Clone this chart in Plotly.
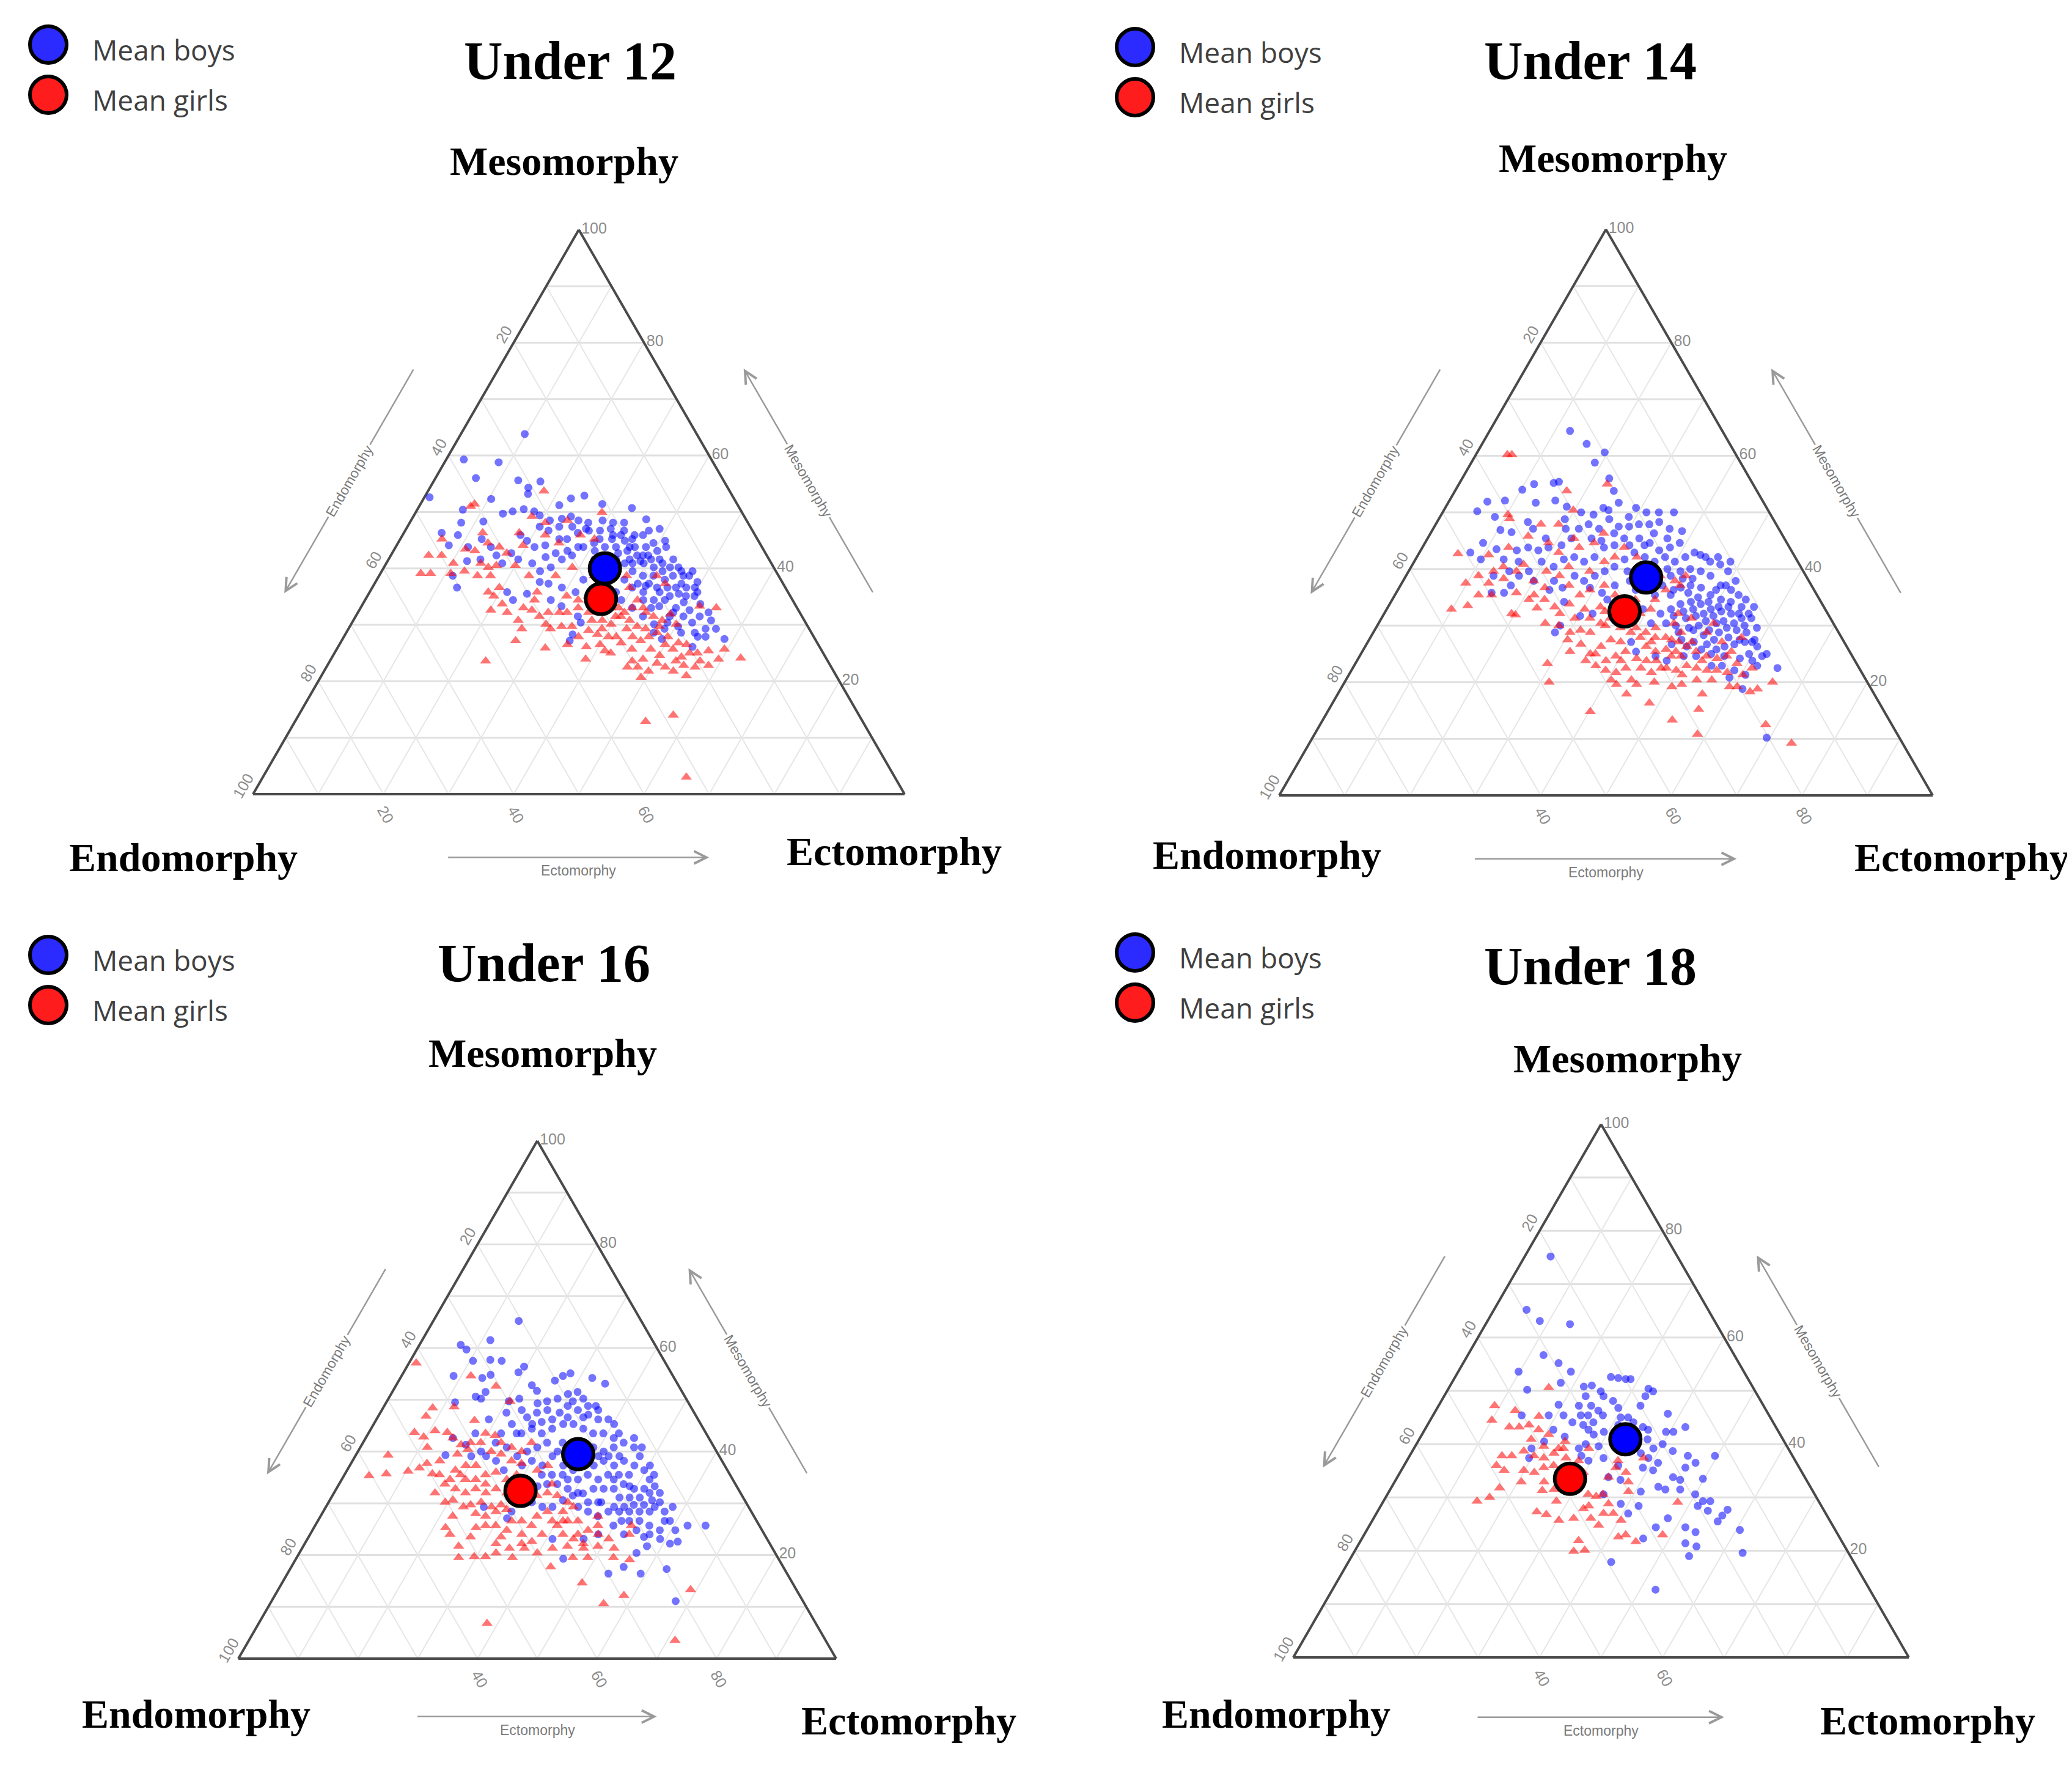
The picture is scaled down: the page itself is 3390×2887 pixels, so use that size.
import plotly.graph_objects as go

W, H = 3390, 2887

panel_names = ["Under 12", "Under 14", "Under 16", "Under 18"]

# every child as (mesomorphy, ectomorphy) in %;
# endomorphy is whatever is left of 100
u12_boys = [
    (63.8, 9.8), (59.3, 2.7), (58.8, 8.3), (56.0, 6.2), (55.6, 12.9), (55.4, 16.4), (52.6, 0.8), (54.3, 15.1),
    (53.2, 15.6), (52.3, 10.4), (52.4, 22.6), (52.9, 24.4), (51.2, 21.4), (51.4, 27.9), (50.7, 32.8), (50.4, 7.0),
    (49.7, 13.5), (50.1, 14.8), (50.5, 16.3), (48.1, 7.9), (48.3, 11.2), (50.1, 18.1), (49.4, 19.3), (48.5, 21.3),
    (48.8, 23.0), (49.2, 24.2), (48.5, 25.7), (48.1, 27.4), (48.5, 29.4), (48.1, 31.2), (48.1, 32.9), (48.7, 36.0),
    (47.0, 38.9), (46.3, 5.8), (45.9, 8.5), (44.1, 8.0), (45.2, 12.5), (43.8, 11.1), (41.3, 12.2), (38.7, 11.3),
    (36.6, 13.0), (45.9, 18.1), (44.9, 19.6), (43.8, 21.3), (44.1, 22.8), (45.2, 24.4), (45.2, 25.6), (46.3, 26.7),
    (46.7, 28.2), (46.7, 29.9), (47.0, 31.4), (45.9, 33.5), (45.2, 35.6), (45.9, 36.9), (44.5, 39.2), (44.9, 40.8),
    (43.8, 41.5), (42.7, 18.3), (40.9, 17.8), (41.6, 19.9), (40.9, 22.4), (39.5, 24.3), (40.2, 25.6), (41.6, 26.6),
    (42.3, 27.8), (43.8, 28.8), (44.5, 30.1), (43.8, 32.1), (43.8, 33.8), (43.1, 35.9), (42.3, 37.8), (42.3, 39.5),
    (41.6, 41.6), (40.2, 43.9), (40.2, 45.2), (38.7, 47.6), (37.6, 49.4), (37.6, 25.2), (37.3, 26.7), (36.6, 29.1),
    (35.8, 31.6), (38.0, 31.7), (41.6, 34.9), (40.9, 36.6), (39.5, 38.5), (38.7, 40.5), (38.7, 42.1), (38.0, 44.2),
    (36.6, 46.6), (36.6, 48.2), (35.1, 50.2), (34.0, 49.1), (33.0, 48.4), (31.5, 48.2), (31.5, 50.3), (30.4, 52.2),
    (29.3, 54.8), (27.5, 58.6), (27.9, 54.3), (28.6, 51.4), (29.3, 48.5), (30.1, 46.5), (31.5, 44.1), (33.0, 41.7),
    (34.4, 39.3), (35.8, 37.8), (36.6, 39.9), (35.8, 42.0), (34.4, 44.3), (34.4, 46.0), (33.0, 44.6), (35.8, 21.1),
    (34.4, 22.7), (35.5, 24.3), (34.4, 28.5), (33.3, 30.7), (31.5, 34.1), (30.4, 35.1), (28.3, 34.9), (27.2, 35.0),
    (27.5, 49.0), (26.1, 54.4), (41.6, 31.6), (38.7, 35.1), (42.3, 16.2), (43.8, 14.6), (41.6, 14.1), (47.4, 20.3),
    (46.7, 22.0), (47.4, 23.3), (47.4, 25.3), (47.0, 27.6), (45.2, 30.6), (45.2, 32.5), (44.9, 34.6), (43.8, 36.7),
    (43.8, 38.4), (43.1, 40.5), (40.9, 39.5), (40.2, 41.4), (39.5, 43.1), (38.7, 45.1), (37.3, 47.1), (35.1, 46.4),
    (35.8, 44.5), (37.3, 42.1), (37.3, 40.4), (38.7, 46.7), (36.6, 49.5), (33.7, 51.8), (32.2, 53.8),
    (42.3, 33.3), (42.7, 34.7), (41.6, 37.0), (41.3, 38.8), (41.6, 40.3), (40.9, 42.4), (41.6, 43.7), (39.5, 46.0),
    (39.5, 47.7), (35.8, 50.3), (35.1, 48.9), (35.5, 47.6), (36.6, 45.3), (36.6, 43.7), (36.9, 41.8), (34.4, 42.7),
    (33.3, 45.7), (32.2, 48.4), (32.6, 50.7), (31.5, 52.8), (30.8, 54.9), (28.6, 53.5), (29.7, 50.4), (30.4, 48.4),
    (28.6, 47.2), (27.9, 55.5), (29.3, 56.4), (39.5, 36.0), (38.0, 38.0), (40.9, 37.8), (42.3, 38.7), (45.9, 32.3),
    (46.7, 33.6), (45.9, 35.6), (46.7, 37.4), (43.8, 35.9), (43.8, 28.0), (43.1, 26.7), (42.7, 25.1), (42.0, 23.9),
    (43.1, 30.9),
]
u12_girls = [
    (53.7, 17.8), (51.4, 8.3), (51.0, 7.9), (49.2, 18.2), (48.1, 20.8), (48.5, 24.0), (49.9, 28.6), (45.2, 6.4),
    (43.4, 10.9), (42.3, 5.8), (39.1, 6.2), (39.1, 7.7), (39.1, 10.8), (39.5, 12.7), (46.3, 12.1), (44.5, 13.8),
    (43.8, 15.9), (42.7, 17.6), (46.3, 17.7), (44.1, 19.4), (45.9, 21.9), (44.5, 24.7), (45.9, 27.3), (45.2, 29.8),
    (43.1, 12.5), (40.9, 14.5), (40.2, 16.0), (38.7, 17.1), (40.5, 17.1), (40.5, 20.0), (38.7, 23.0), (35.8, 25.7),
    (35.1, 19.4), (32.6, 20.2), (32.2, 22.9), (33.0, 25.0), (32.6, 26.5), (31.5, 28.2), (30.1, 29.9), (29.3, 31.0),
    (32.2, 30.9), (32.2, 32.1), (33.0, 33.4), (32.2, 35.4), (30.8, 36.6), (30.8, 38.2), (30.1, 39.9), (31.5, 39.9),
    (32.2, 40.9), (33.0, 41.7), (33.0, 43.4), (38.7, 42.6), (37.3, 44.6), (38.7, 38.0), (36.6, 39.5), (34.4, 41.8),
    (32.2, 44.2), (31.5, 45.7), (30.8, 47.4), (31.9, 48.1), (33.3, 51.9), (33.0, 54.6), (30.1, 49.9), (29.3, 42.7),
    (27.9, 44.3), (27.2, 45.9), (27.9, 46.8), (28.6, 47.7), (26.5, 50.0), (25.7, 51.6), (24.3, 53.6), (26.5, 53.3),
    (25.0, 55.7), (25.4, 57.2), (25.7, 59.5), (24.1, 62.8), (23.9, 59.5), (22.5, 56.6), (21.0, 56.0), (23.6, 53.1),
    (22.5, 52.0), (23.9, 47.9), (22.5, 47.8), (20.7, 49.2), (22.5, 46.2), (25.4, 41.3), (25.0, 42.4), (26.5, 40.0),
    (26.1, 38.1), (23.9, 39.1), (25.9, 31.9), (27.2, 26.7), (29.3, 26.6), (23.6, 23.9), (12.9, 53.8), (14.0, 57.5),
    (29.7, 32.5), (29.7, 34.1), (29.0, 37.0), (28.3, 38.7), (27.9, 40.6), (26.8, 43.1), (25.7, 45.3), (25.7, 48.2),
    (24.6, 50.1), (35.1, 30.6), (34.4, 32.7), (35.1, 33.9), (33.0, 38.4), (33.0, 39.6), (35.8, 18.2), (36.6, 19.5),
    (3.0, 65.0),
    (31.5, 40.7), (30.8, 42.4), (29.7, 44.1), (29.3, 45.6), (29.7, 47.5), (27.9, 49.7), (26.8, 51.9), (25.0, 54.5),
    (23.6, 56.8), (22.8, 58.5), (22.8, 54.7), (21.8, 53.6), (23.2, 50.4), (21.8, 49.8), (23.6, 46.4), (27.9, 41.8),
    (29.3, 38.9), (27.9, 36.0), (26.5, 35.0), (34.4, 26.0), (32.2, 29.2), (30.8, 25.3), (33.7, 21.4), (38.7, 15.1),
    (40.9, 10.3), (42.3, 7.8), (38.7, 27.1), (40.2, 28.9), (38.7, 33.0), (35.8, 36.1),
]
u14_boys = [
    (64.4, 12.3), (62.1, 16.0), (60.6, 19.5), (58.8, 18.9), (56.0, 22.5), (53.8, 24.3), (55.0, 11.5), (54.0, 10.2),
    (55.2, 14.4), (55.4, 15.1), (51.9, 5.9), (52.1, 8.5), (51.7, 13.4), (52.1, 16.2), (51.0, 18.5), (50.2, 5.2),
    (49.2, 8.4), (46.9, 10.4), (46.5, 12.3), (48.3, 13.9), (47.1, 15.3), (48.8, 19.3), (50.0, 21.2), (49.6, 23.3),
    (50.8, 24.2), (50.4, 25.2), (51.7, 26.1), (49.2, 28.9), (50.8, 29.2), (50.0, 31.2), (50.0, 33.1), (50.0, 35.4),
    (44.6, 8.9), (42.9, 7.8), (41.7, 10.0), (43.5, 11.5), (41.7, 13.5), (43.3, 14.7), (43.8, 16.2), (43.3, 18.0),
    (43.8, 19.3), (44.2, 21.1), (45.4, 22.0), (47.1, 22.3), (47.9, 23.4), (47.1, 25.4), (48.8, 26.1), (47.5, 28.2),
    (47.5, 29.8), (47.9, 31.1), (47.9, 32.7), (48.3, 34.0), (47.1, 36.2), (46.7, 38.3), (44.6, 39.0), (43.8, 37.9),
    (43.3, 36.5), (44.6, 34.4), (45.4, 32.4), (45.4, 30.1), (44.2, 29.2), (43.8, 27.8), (42.1, 27.2), (41.3, 26.0),
    (42.1, 24.1), (41.7, 22.7), (40.4, 21.8), (41.3, 19.5), (39.6, 18.4), (38.8, 17.3), (37.1, 16.9), (35.8, 16.5),
    (35.8, 14.6), (38.8, 13.4), (39.6, 15.4), (37.9, 23.1), (36.7, 25.0), (38.8, 25.8), (37.9, 27.7), (38.8, 28.9),
    (39.6, 30.0), (40.4, 31.1), (41.7, 32.0), (42.9, 32.9), (42.1, 34.9), (41.3, 36.8), (42.1, 38.0), (41.3, 39.9),
    (42.1, 41.1), (42.9, 42.1), (42.5, 43.2), (41.3, 45.3), (40.8, 47.1), (39.6, 48.9), (37.9, 50.9), (36.3, 51.0),
    (37.1, 49.0), (38.8, 46.6), (39.6, 44.7), (40.0, 42.9), (39.6, 41.6), (38.8, 40.5), (37.1, 40.1), (35.4, 42.2),
    (36.7, 43.1), (37.1, 44.4), (36.7, 46.2), (35.4, 48.3), (34.6, 50.3), (34.2, 52.0), (33.3, 54.1), (33.3, 56.0),
    (31.3, 56.6), (31.3, 55.1), (32.1, 53.1), (32.5, 51.4), (32.9, 49.6), (33.8, 47.6), (34.2, 45.9), (33.8, 44.5),
    (32.9, 43.5), (32.1, 42.3), (30.4, 44.0), (30.0, 45.7), (31.3, 46.6), (31.7, 47.9), (30.8, 49.9), (30.4, 51.7),
    (29.6, 53.7), (29.2, 55.4), (28.8, 57.1), (27.1, 57.7), (26.7, 56.3), (26.3, 55.0), (27.5, 52.8), (28.3, 50.8),
    (29.2, 48.8), (27.5, 47.8), (26.7, 46.7), (25.8, 51.7), (25.0, 53.6), (24.6, 55.8), (24.2, 58.4), (23.8, 60.5),
    (22.5, 65.0), (21.3, 60.7), (20.8, 58.5), (18.8, 61.5), (10.2, 69.5), (25.0, 62.1), (26.3, 60.0), (28.8, 27.8),
    (30.0, 28.0), (31.7, 30.2), (32.1, 31.9), (34.6, 32.9), (27.1, 40.3), (25.4, 41.9), (24.6, 45.3), (23.8, 47.4),
    (24.6, 49.6), (36.7, 29.2), (35.8, 31.5), (37.1, 32.8), (37.9, 34.7), (36.3, 37.9), (35.4, 39.8), (32.9, 39.2),
    (30.4, 41.7), (27.1, 49.9), (22.9, 54.7), (47.1, 20.3), (45.4, 18.1), (41.3, 16.0), (37.9, 20.0), (36.3, 23.2),
    (34.2, 26.5), (29.6, 58.3), (27.5, 59.0), (22.9, 56.3), (22.1, 58.6),
    (42.1, 46.1), (41.3, 48.4), (42.1, 44.2), (37.1, 49.8), (35.4, 52.6), (34.6, 54.1), (36.3, 48.7), (38.3, 44.1),
    (38.3, 42.6), (36.3, 42.2), (35.8, 44.7), (35.0, 46.6), (34.2, 48.6), (33.3, 50.6), (33.3, 52.1), (32.1, 54.3),
    (32.1, 55.8), (30.0, 56.2), (30.4, 54.4), (30.8, 52.6), (31.7, 50.6), (32.1, 48.9), (32.9, 46.9), (32.5, 45.6),
    (31.7, 44.5), (29.6, 47.9), (30.0, 49.2), (29.2, 51.2), (28.8, 52.9), (27.9, 54.8), (27.5, 56.7), (27.1, 58.8),
    (25.0, 59.4), (24.6, 61.6), (22.9, 61.7), (25.8, 54.0), (26.7, 52.1), (24.6, 51.5), (26.3, 49.2), (28.8, 46.7),
    (39.6, 38.1), (40.0, 39.4), (40.4, 36.1), (39.6, 35.0), (39.6, 33.5), (36.3, 36.4), (34.6, 35.6), (45.4, 36.7),
    (46.3, 34.2), (44.2, 33.8), (44.2, 31.5), (46.3, 28.1), (45.0, 26.8), (45.4, 25.1),
]
u14_girls = [
    (60.2, 4.8), (60.2, 5.5), (53.8, 17.1), (55.0, 22.7), (49.6, 10.2), (48.9, 10.8), (45.8, 15.2), (42.7, 6.0),
    (42.5, 10.8), (43.8, 13.2), (38.8, 11.1), (37.5, 9.8), (32.9, 9.9), (33.5, 12.1), (35.4, 14.8), (32.1, 19.5),
    (31.9, 20.2), (33.1, 22.9), (30.4, 25.5), (30.0, 27.8), (44.6, 18.9), (47.9, 18.8), (45.4, 22.4), (42.9, 21.3),
    (40.4, 24.1), (43.8, 24.0), (44.6, 25.9), (46.3, 26.5), (42.1, 30.3), (43.8, 30.9), (42.1, 33.7), (39.6, 21.1),
    (38.8, 23.5), (36.7, 22.3), (37.1, 25.8), (35.4, 28.3), (36.3, 29.4), (37.1, 31.2), (35.4, 33.7), (33.3, 32.5),
    (32.9, 30.3), (31.3, 29.6), (28.8, 30.1), (27.5, 30.4), (26.7, 32.8), (28.8, 33.2), (30.4, 34.0), (31.3, 35.0),
    (29.6, 37.4), (31.3, 38.1), (32.1, 39.2), (32.9, 40.4), (34.6, 40.2), (36.3, 41.0), (37.9, 41.6), (37.1, 42.8),
    (38.8, 42.8), (28.8, 41.7), (27.9, 43.6), (27.9, 41.3), (28.8, 39.4), (27.1, 38.7), (27.5, 37.0), (26.3, 36.1),
    (25.0, 35.1), (22.9, 37.0), (23.8, 38.1), (24.6, 39.2), (25.4, 40.3), (26.3, 43.0), (25.4, 44.9), (25.8, 46.3),
    (25.4, 48.0), (26.3, 49.2), (25.4, 51.1), (24.6, 53.1), (24.2, 54.9), (21.7, 57.7), (23.3, 58.4), (22.5, 61.1),
    (20.0, 65.5), (19.2, 60.5), (18.3, 62.9), (18.8, 63.8), (19.2, 59.3), (22.1, 55.9), (22.1, 54.4), (22.5, 52.6),
    (22.9, 50.9), (22.1, 49.7), (22.5, 48.0), (23.8, 45.8), (23.8, 44.3), (24.2, 42.6), (22.5, 41.8), (21.7, 40.7),
    (20.4, 43.7), (17.9, 44.2), (16.3, 48.5), (20.0, 47.4), (19.2, 50.5), (19.6, 51.8), (20.4, 53.7), (17.9, 55.8),
    (13.3, 53.5), (10.8, 58.6), (15.2, 56.6), (14.8, 40.2), (23.3, 29.4), (20.0, 31.3), (20.4, 40.6), (12.5, 68.2),
    (9.2, 73.8), (27.1, 54.2), (28.8, 51.0), (28.8, 47.1), (27.5, 46.3), (25.4, 56.5), (37.9, 20.0), (40.8, 17.0),
    (39.6, 13.0), (38.3, 15.2), (35.8, 18.4), (39.6, 27.7), (41.3, 29.1), (39.6, 37.0), (38.8, 38.9), (33.3, 25.5),
    (35.4, 21.3), (27.9, 56.8), (30.4, 51.3), (31.3, 47.4), (32.1, 45.0), (50.4, 19.8), (47.9, 16.1), (30.0, 34.9),
    (34.6, 37.2),
    (31.3, 31.9), (32.5, 33.6), (32.1, 36.1), (29.6, 39.8), (27.1, 43.4), (27.9, 45.2), (27.1, 47.6), (27.1, 49.6),
    (23.8, 52.8), (24.6, 49.2), (24.6, 47.7), (22.5, 47.2), (21.7, 46.1), (22.5, 44.1), (22.1, 38.9), (25.0, 35.9),
    (23.8, 35.0), (29.2, 31.5), (32.1, 26.9), (33.8, 27.5), (34.6, 23.3), (34.6, 20.9), (39.6, 16.5), (40.4, 14.1),
    (37.5, 13.3), (35.4, 12.8), (25.4, 31.8), (19.6, 41.8), (19.6, 44.9), (21.3, 51.0), (20.4, 56.0), (21.3, 60.3),
    (24.6, 56.2), (23.8, 40.4), (29.6, 42.8), (30.4, 45.2),
]
u16_boys = [
    (65.2, 14.3), (61.5, 11.4), (60.6, 6.9), (59.7, 8.3), (57.5, 10.5), (57.7, 13.3), (57.5, 15.3), (56.4, 19.6),
    (55.3, 19.2), (54.6, 8.7), (54.2, 13.7), (54.8, 14.8), (52.8, 22.7), (51.7, 24.1), (53.7, 26.1), (54.6, 27.0),
    (55.1, 28.0), (54.2, 32.1), (53.1, 34.8), (49.5, 11.5), (50.6, 14.4), (50.2, 15.5), (51.5, 15.6), (49.7, 20.4),
    (50.2, 21.9), (48.0, 23.4), (49.3, 25.4), (49.7, 26.8), (50.2, 28.3), (51.1, 29.6), (51.5, 31.0), (50.2, 32.6),
    (48.8, 35.4), (46.2, 18.8), (47.5, 21.1), (45.3, 23.1), (46.6, 25.0), (47.5, 26.2), (48.0, 27.7), (47.5, 30.0),
    (48.8, 30.7), (48.0, 32.8), (47.1, 35.0), (46.2, 37.1), (46.2, 38.8), (45.3, 40.2), (43.5, 22.2), (41.7, 22.2),
    (40.8, 24.5), (43.5, 25.6), (44.4, 26.9), (43.5, 29.0), (44.4, 30.3), (45.3, 31.7), (45.3, 33.4), (44.4, 35.5),
    (43.5, 37.6), (43.5, 39.3), (42.6, 41.5), (41.7, 43.6), (40.8, 42.4), (40.0, 41.1), (40.8, 39.0), (41.7, 33.4),
    (41.7, 30.8), (40.8, 29.6), (40.0, 28.3), (39.1, 27.1), (40.0, 20.6), (39.1, 21.9), (38.2, 24.0), (36.4, 26.2),
    (37.3, 28.8), (38.2, 30.0), (37.3, 32.2), (39.1, 33.0), (37.3, 35.7), (37.3, 40.8), (38.2, 42.0), (37.3, 44.2),
    (38.2, 45.4), (37.3, 47.6), (39.1, 47.6), (35.5, 47.6), (35.5, 45.9), (35.5, 44.1), (34.6, 42.9), (35.5, 40.7),
    (34.6, 39.5), (34.6, 37.8), (33.7, 36.5), (33.7, 34.8), (33.3, 33.4), (34.6, 51.5), (32.8, 51.5), (32.8, 49.8),
    (33.7, 47.6), (32.8, 46.4), (32.8, 44.7), (32.8, 43.0), (31.9, 41.7), (31.5, 40.2), (30.6, 39.0), (29.3, 37.9),
    (29.3, 36.2), (30.2, 34.0), (31.1, 48.2), (31.1, 49.9), (31.1, 51.6), (32.0, 52.8), (30.2, 55.4), (32.0, 54.5),
    (29.3, 55.0), (28.4, 54.6), (28.4, 52.9), (28.4, 51.2), (28.4, 49.5), (28.4, 47.7), (27.5, 46.4), (26.6, 52.1),
    (26.6, 53.8), (25.7, 55.9), (24.8, 58.1), (26.6, 58.9), (29.3, 58.0), (25.7, 62.3), (25.7, 65.3), (24.0, 56.8),
    (23.1, 59.0), (22.2, 61.1), (22.6, 62.2), (21.7, 57.5), (16.4, 53.7), (17.7, 55.6), (16.4, 59.1), (17.3, 63.0),
    (11.1, 67.6), (19.3, 44.7), (23.1, 41.0), (23.1, 46.2), (24.0, 48.2), (29.3, 26.4), (28.4, 31.5), (27.1, 31.4),
    (39.3, 15.0), (42.6, 14.6), (39.1, 19.4), (43.5, 17.9), (41.3, 17.4), (34.2, 28.6), (34.2, 30.3), (40.8, 34.7),
    (38.2, 36.9), (39.1, 38.2), (40.0, 33.4), (40.8, 45.8), (36.4, 49.7), (25.7, 49.9), (24.0, 52.5), (28.4, 44.3),
    (29.3, 42.2), (30.2, 45.6), (20.4, 56.4),
    (49.7, 31.1), (48.8, 34.1), (48.0, 36.2), (46.6, 34.4), (46.6, 31.8), (46.2, 29.4), (45.7, 27.9), (43.5, 41.9),
    (42.6, 44.9), (40.8, 47.1), (37.3, 50.2), (35.5, 51.8), (39.1, 44.2), (39.1, 42.4), (39.1, 40.7), (38.2, 39.4),
    (36.4, 37.8), (35.5, 36.5), (35.5, 34.7), (35.5, 33.0), (29.3, 49.9), (29.3, 48.2), (29.7, 51.3), (29.7, 53.0),
    (30.6, 53.9), (28.4, 57.1), (24.8, 54.2), (23.5, 56.1), (26.6, 50.8), (30.2, 45.1), (30.2, 43.4), (32.0, 40.8),
    (32.8, 38.7), (34.6, 45.5), (33.3, 48.8), (33.3, 53.0), (26.6, 58.0), (24.8, 60.7), (45.3, 26.5), (43.5, 24.8),
]
u16_girls = [
    (57.1, 1.2), (54.6, 11.6), (52.6, 16.8), (48.4, 8.3), (46.8, 8.0), (48.6, 11.8), (46.0, 16.5), (43.7, 7.6),
    (42.8, 9.6), (44.0, 10.9), (43.7, 13.1), (43.1, 21.4), (49.7, 20.6), (39.3, 5.4), (35.3, 4.2), (35.7, 6.9),
    (36.2, 10.3), (36.8, 11.9), (35.7, 14.6), (37.7, 12.7), (42.6, 14.6), (41.3, 16.6), (40.4, 18.2), (41.7, 19.7),
    (40.0, 22.3), (39.5, 24.2), (38.2, 26.6), (37.7, 28.5), (35.5, 28.8), (34.6, 27.6), (36.0, 25.1), (35.5, 23.6),
    (37.3, 21.1), (37.3, 19.4), (36.4, 18.1), (33.7, 17.7), (32.8, 19.9), (32.0, 22.0), (32.8, 23.3), (32.0, 25.4),
    (32.8, 26.7), (29.7, 29.1), (29.3, 27.7), (30.2, 25.5), (29.7, 24.0), (30.6, 20.6), (27.5, 22.1), (28.0, 25.7),
    (27.5, 27.6), (28.4, 28.9), (28.8, 30.5), (32.8, 31.9), (31.5, 34.2), (32.0, 35.7), (31.5, 37.6), (30.2, 40.0),
    (29.3, 41.4), (28.4, 40.1), (26.6, 39.2), (25.7, 40.5), (26.6, 41.8), (26.6, 43.5), (24.8, 46.1), (24.0, 48.2),
    (23.1, 50.4), (22.2, 46.6), (23.1, 44.5), (24.0, 42.3), (24.0, 38.8), (25.7, 36.2), (26.6, 34.1), (26.6, 32.4),
    (23.5, 32.2), (22.2, 32.0), (21.3, 34.7), (22.2, 36.3), (22.6, 37.8), (25.3, 22.0), (25.3, 27.1), (21.7, 26.0),
    (19.5, 27.1), (19.7, 29.6), (19.7, 31.5), (19.5, 36.1), (21.3, 37.2), (21.3, 41.9), (21.7, 44.2), (21.3, 47.1),
    (21.7, 49.3), (21.3, 52.2), (19.5, 53.0), (19.1, 55.9), (24.0, 53.4), (25.7, 52.9), (17.7, 43.4), (14.6, 50.2),
    (10.6, 55.8), (12.2, 58.4), (13.3, 69.0), (6.8, 38.2), (3.5, 71.3), (36.4, 31.8), (37.3, 33.1), (33.7, 35.6),
    (30.2, 32.3), (34.6, 20.7), (38.2, 14.6), (40.8, 11.2), (25.7, 30.2), (19.5, 48.7), (19.5, 46.2), (27.5, 46.4),
    (39.5, 16.9), (41.7, 18.0), (43.5, 19.6), (41.7, 23.1), (40.8, 25.3), (40.0, 27.4), (41.7, 28.2), (32.8, 30.2),
    (34.6, 31.0), (32.0, 28.9), (33.7, 24.5), (34.6, 22.4), (35.5, 19.4), (34.6, 18.1), (35.5, 15.9), (32.0, 16.9),
    (30.2, 19.5), (29.3, 23.0), (25.7, 28.5), (24.8, 32.5), (24.0, 35.4), (27.5, 36.2), (28.4, 37.5), (26.6, 41.0),
    (24.0, 44.8), (25.7, 47.3), (20.4, 39.8), (20.4, 32.9), (23.5, 27.1), (24.0, 23.4),
]
u18_boys = [
    (75.2, 4.2), (65.2, 5.3), (63.1, 8.5), (62.5, 13.7), (56.7, 12.3), (55.2, 15.5), (53.6, 18.3), (53.6, 9.8),
    (51.5, 17.7), (50.2, 12.9), (52.6, 25.3), (52.4, 26.6), (52.2, 27.9), (52.2, 28.7), (50.8, 21.8), (51.0, 23.0),
    (49.9, 25.0), (49.0, 25.9), (50.4, 32.5), (49.9, 33.5), (49.0, 32.7), (49.0, 23.0), (47.4, 19.4), (47.2, 22.8),
    (47.2, 24.8), (46.3, 26.4), (48.1, 27.9), (46.8, 29.4), (47.2, 32.8), (45.4, 18.8), (45.4, 21.2), (45.4, 14.4),
    (44.1, 23.3), (45.4, 24.0), (45.4, 25.2), (44.1, 26.7), (45.4, 27.6), (45.0, 30.7), (45.0, 31.9), (44.1, 33.2),
    (45.7, 38.0), (42.7, 20.9), (40.5, 20.5), (41.4, 23.4), (43.6, 25.3), (42.7, 26.6), (41.8, 27.9), (42.3, 29.3),
    (43.6, 31.0), (43.2, 35.2), (42.7, 36.3), (42.3, 39.4), (42.3, 40.6), (43.2, 42.1), (39.2, 19.1), (37.4, 19.6),
    (40.0, 27.5), (39.6, 29.8), (40.9, 35.5), (40.9, 37.1), (39.2, 38.9), (40.0, 40.0), (38.7, 42.3), (37.8, 45.2),
    (37.8, 49.6), (38.3, 37.3), (37.4, 39.0), (36.5, 41.0), (35.6, 39.0), (35.1, 40.9), (36.9, 29.5), (37.4, 31.7),
    (36.0, 34.8), (35.6, 45.9), (36.5, 47.1), (33.5, 49.8), (33.8, 34.3), (33.3, 36.5), (33.8, 44.8), (33.3, 46.2),
    (32.0, 43.3), (31.5, 44.7), (31.5, 47.1), (31.1, 40.9), (30.6, 35.1), (28.8, 38.8), (27.0, 40.9), (30.6, 50.0),
    (29.3, 51.9), (29.3, 53.1), (28.4, 51.5), (27.5, 53.6), (27.7, 56.7), (26.6, 56.4), (25.5, 56.2), (26.1, 47.8),
    (24.4, 51.5), (24.4, 46.7), (22.3, 45.7), (23.5, 53.6), (21.4, 53.0), (20.8, 55.1), (19.0, 54.8), (23.9, 60.6),
    (19.6, 63.2), (17.9, 42.7), (12.7, 52.5), (28.4, 41.9), (37.8, 27.9), (39.2, 26.8),
]
u18_girls = [
    (50.6, 16.2), (47.2, 9.1), (44.5, 10.0), (46.3, 12.9), (45.2, 17.3), (43.2, 13.5), (43.2, 15.1), (43.6, 16.5),
    (42.7, 18.5), (41.8, 20.6), (40.9, 18.2), (40.5, 23.9), (37.8, 15.0), (37.8, 16.6), (38.7, 18.1), (37.8, 20.2),
    (37.4, 22.0), (38.3, 23.2), (39.2, 23.5), (37.4, 25.6), (36.9, 27.9), (39.2, 28.4), (36.0, 15.0), (35.1, 16.7),
    (35.1, 19.9), (34.7, 21.8), (35.6, 22.9), (36.0, 24.3), (35.1, 26.0), (31.8, 17.6), (30.0, 16.9), (29.3, 15.2),
    (32.9, 20.6), (32.9, 24.3), (31.5, 26.6), (31.3, 24.8), (29.3, 28.1), (32.9, 29.9), (34.7, 29.8), (30.6, 32.6),
    (30.6, 35.0), (33.8, 34.3), (36.9, 34.3), (35.6, 34.6), (34.7, 36.7), (32.9, 38.0), (31.1, 38.9), (28.8, 36.8),
    (27.0, 36.9), (26.1, 35.3), (27.9, 33.2), (26.1, 32.5), (25.7, 30.3), (26.8, 27.7), (27.3, 25.9), (28.4, 33.8),
    (24.8, 37.2), (30.2, 34.1), (27.0, 38.5), (25.7, 40.4), (22.6, 41.5), (23.0, 42.5), (21.7, 44.8), (37.4, 38.2),
    (29.1, 47.9), (23.0, 48.5), (21.9, 35.4), (19.9, 35.6), (20.1, 37.3), (39.2, 24.3), (39.6, 20.9),
]

# group means, (mesomorphy, ectomorphy)
mean_boys = [(40.0, 34.0), (38.5, 36.9), (39.5, 37.1), (40.9, 33.5)]
mean_girls = [(34.6, 36.1), (32.5, 36.6), (32.4, 31.0), (33.5, 28.2)]

# tick labels as printed on each side of the triangles
left_labels = ["100", "80", "60", "40", "20"]
right_labels = ["100", "80", "60", "40", "20"]
bottom_labels = [["20", "40", "60"], ["40", "60", "80"], ["40", "60", "80"], ["40", "60"]]

boys = [u12_boys, u14_boys, u16_boys, u18_boys]
girls = [u12_girls, u14_girls, u16_girls, u18_girls]

# page layout in pixels: triangle left x, right x, base y
frames = [(406, 1472, 1291), (2085, 3154, 1293), (382, 1360, 2705), (2108, 3115, 2703)]
title_pos = [(925, 91), (2594, 91), (882, 1567), (2594, 1572)]
meso_pos = [(915, 255), (2631, 251), (880, 1714), (2655, 1723)]
endo_pos = [(292, 1394), (2065, 1390), (313, 2795), (2080, 2795)]
ecto_pos = [(1455, 1384), (3202, 1394), (1479, 2806), (3146, 2806)]
key_pos = [(71, 65), (1849, 69), (71, 1554), (1849, 1550)]

SERIF = "Liberation Serif"
SANS = "Liberation Sans"


def paper(x, y):
    return x / W, 1 - y / H


def split(points):
    meso = [m for m, e in points]
    ecto = [e for m, e in points]
    endo = [round(100 - m - e, 1) for m, e in points]
    return meso, endo, ecto


def side_axis(labels, angle, grid="#e6e6e6", gw=2):
    shown = {100 - int(t): t for t in labels}
    vals = list(range(0, 101, 10))
    return dict(
        min=0,
        tickmode="array",
        tickvals=vals,
        ticktext=[shown.get(v, "") for v in vals],
        tickangle=angle,
        tickfont=dict(family=SANS, size=25, color="#8c8c8c"),
        ticks="",
        showline=True,
        linecolor="#4a4a4a",
        linewidth=4,
        showgrid=True,
        gridcolor=grid,
        gridwidth=gw,
        layer="below traces",
        title=dict(text=""),
    )


fig = go.Figure()
ternaries = {}
annotations = []
shapes = []

for i, name in enumerate(panel_names):
    key = "ternary" if i == 0 else f"ternary{i + 1}"
    xl, xr, yb = frames[i]
    s = xr - xl
    h = s * 3 ** 0.5 / 2
    x0, y0 = paper(xl, yb)
    x1, y1 = paper(xr, yb - h)
    ternaries[key] = dict(
        domain=dict(x=[x0, x1], y=[y0, y1]),
        sum=100,
        bgcolor="white",
        aaxis=side_axis(left_labels, -60, grid="#e0e0e0", gw=3),
        baxis=side_axis(bottom_labels[i], 60),
        caxis=side_axis(right_labels, 0),
    )

    for pts, color, symbol, size in (
        (boys[i], "#0000ff", "circle", 13),
        (girls[i], "#ff0000", "triangle-up", 16),
    ):
        a, b, c = split(pts)
        fig.add_trace(go.Scatterternary(
            a=a, b=b, c=c, mode="markers", subplot=key, showlegend=False,
            marker=dict(color=color, symbol=symbol, size=size, opacity=0.55, line=dict(width=0)),
        ))
    for mean, color in ((mean_boys[i], "#0000ff"), (mean_girls[i], "#ff0000")):
        a, b, c = split([mean])
        fig.add_trace(go.Scatterternary(
            a=a, b=b, c=c, mode="markers", subplot=key, showlegend=False,
            marker=dict(color=color, size=50, line=dict(color="black", width=6)),
        ))

    # panel title and corner names
    for pos, text, size in (
        (title_pos[i], name, 88),
        (meso_pos[i], "Mesomorphy", 66),
        (endo_pos[i], "Endomorphy", 66),
        (ecto_pos[i], "Ectomorphy", 66),
    ):
        px, py = paper(*pos)
        annotations.append(dict(
            x=px, y=py, xref="paper", yref="paper", text=text, showarrow=False,
            font=dict(family=SERIF, size=size, color="black", weight="bold"),
            xanchor="center", yanchor="middle",
        ))

    # small arrows with axis names along the three sides
    d = 0.13 * s

    def left_pt(t):
        return xl + t * s / 2 - d, yb - t * h

    def right_pt(t):
        return xr - t * s / 2 + d, yb - t * h

    arrows = [
        (left_pt(0.754), left_pt(0.356), left_pt(0.555), "Endomorphy", -60),
        (right_pt(0.356), right_pt(0.754), right_pt(0.555), "Mesomorphy", 60),
        ((xl + 0.298 * s, yb + 0.097 * s), (xl + 0.70 * s, yb + 0.097 * s),
         (xl + 0.5 * s, yb + 0.097 * s + 22), "Ectomorphy", 0),
    ]
    for tail, head, mid, text, ang in arrows:
        hx, hy = paper(*head)
        annotations.append(dict(
            x=hx, y=hy, xref="paper", yref="paper", text="", showarrow=True,
            axref="pixel", ayref="pixel", ax=tail[0] - head[0], ay=tail[1] - head[1],
            arrowhead=5, arrowsize=1.6, arrowwidth=2.5, arrowcolor="#9a9a9a", standoff=0,
        ))
        mx, my = paper(*mid)
        annotations.append(dict(
            x=mx, y=my, xref="paper", yref="paper", text=text, showarrow=False,
            textangle=ang, font=dict(family=SANS, size=23, color="#7a7a7a"),
            bgcolor="white" if ang else "rgba(0,0,0,0)", borderpad=2,
            xanchor="center", yanchor="middle",
        ))

    # key for the two mean markers
    cx, cy = key_pos[i]
    r = 30
    for k, (text, fill) in enumerate((("Mean boys", "#2b2bff"), ("Mean girls", "#ff1c1c"))):
        yy = cy + k * 82
        ax0, ay0 = paper(cx - r, yy + r)
        ax1, ay1 = paper(cx + r, yy - r)
        shapes.append(dict(
            type="circle", xref="paper", yref="paper", x0=ax0, y0=ay0, x1=ax1, y1=ay1,
            fillcolor=fill, line=dict(color="black", width=6),
        ))
        tx, ty = paper(cx + 70, yy + 8)
        annotations.append(dict(
            x=tx, y=ty, xref="paper", yref="paper", text=text, showarrow=False,
            font=dict(family="Open Sans", size=46, color="#404040"),
            xanchor="left", yanchor="middle",
        ))

fig.update_layout(
    width=W,
    height=H,
    margin=dict(l=0, r=0, t=0, b=0),
    paper_bgcolor="white",
    showlegend=False,
    font=dict(family=SANS),
    annotations=annotations,
    shapes=shapes,
    **ternaries,
)

fig.write_html("out.html")
